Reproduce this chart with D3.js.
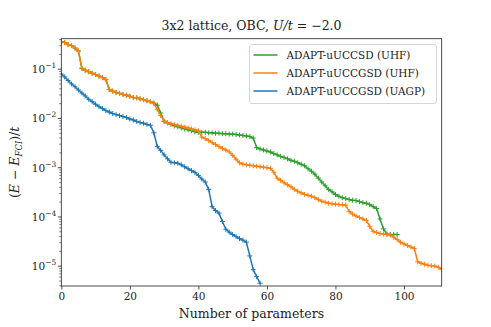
<!DOCTYPE html>
<html>
<head>
<meta charset="utf-8">
<script src="https://cdn.jsdelivr.net/npm/d3@7"></script>
<style>
  body { margin: 0; background: #fff; }
  text { font-family: "DejaVu Serif", "Liberation Serif", serif; fill: #222; }
</style>
</head>
<body>
<div id="chart-area"></div>
<script>
// values (one point per parameter)
var uhfGsdVals = [3.55e-1, 3.39e-1, 3.09e-1, 2.95e-1, 2.63e-1, 2.29e-1, 1.02e-1, 9.3e-2, 8.7e-2, 8.1e-2,
  7.6e-2, 7.1e-2, 6.6e-2, 6.0e-2, 3.8e-2, 3.5e-2, 3.3e-2, 3.16e-2, 3.0e-2, 2.9e-2,
  2.75e-2, 2.6e-2, 2.57e-2, 2.45e-2, 2.35e-2, 2.24e-2, 2.14e-2, 2.0e-2, 1.5e-2, 1.12e-2,
  8.7e-3, 8.1e-3, 7.6e-3, 7.4e-3, 7.1e-3, 6.8e-3, 6.5e-3, 6.3e-3, 6.0e-3, 5.75e-3,
  5.5e-3, 4.07e-3, 3.8e-3, 3.47e-3, 3.16e-3, 2.88e-3, 2.63e-3, 2.4e-3, 2.24e-3, 2.04e-3,
  1.74e-3, 1.45e-3, 1.23e-3, 1.15e-3, 1.12e-3, 1.1e-3, 1.07e-3, 1.05e-3, 1.02e-3, 1.0e-3,
  9.8e-4, 9.5e-4, 7.9e-4, 6.0e-4, 5.4e-4, 4.8e-4, 4.4e-4, 4.0e-4, 3.55e-4, 3.24e-4,
  3.0e-4, 2.8e-4, 2.7e-4, 2.57e-4, 2.4e-4, 2.2e-4, 2.04e-4, 1.95e-4, 1.86e-4, 1.82e-4,
  1.78e-4, 1.74e-4, 1.72e-4, 1.70e-4, 1.26e-4, 1.12e-4, 1.02e-4, 9.5e-5, 8.9e-5, 8.3e-5,
  6.3e-5, 5.0e-5, 4.7e-5, 4.5e-5, 4.4e-5, 4.3e-5, 4.2e-5, 3.8e-5, 3.4e-5, 3.0e-5,
  2.75e-5, 2.57e-5, 2.4e-5, 2.24e-5, 1.2e-5, 1.12e-5, 1.07e-5, 1.02e-5, 1.0e-5, 9.8e-6,
  9.3e-6, 8.5e-6];

var uhfSdVals = [3.55e-1, 3.39e-1, 3.09e-1, 2.95e-1, 2.63e-1, 2.29e-1, 1.02e-1, 9.3e-2, 8.7e-2, 8.1e-2,
  7.6e-2, 7.1e-2, 6.6e-2, 6.0e-2, 3.8e-2, 3.5e-2, 3.3e-2, 3.16e-2, 3.0e-2, 2.9e-2,
  2.75e-2, 2.6e-2, 2.57e-2, 2.45e-2, 2.35e-2, 2.24e-2, 2.14e-2, 2.0e-2, 1.82e-2, 1.26e-2,
  8.5e-3, 7.9e-3, 7.4e-3, 6.9e-3, 6.6e-3, 6.3e-3, 6.0e-3, 5.75e-3, 5.5e-3, 5.25e-3,
  5.1e-3, 5.1e-3, 5.1e-3, 5.0e-3, 5.0e-3, 4.9e-3, 4.9e-3, 4.8e-3, 4.8e-3, 4.7e-3,
  4.7e-3, 4.6e-3, 4.5e-3, 4.4e-3, 4.3e-3, 4.2e-3, 3.9e-3, 2.5e-3, 2.35e-3, 2.24e-3,
  2.14e-3, 2.04e-3, 1.9e-3, 1.78e-3, 1.66e-3, 1.58e-3, 1.48e-3, 1.38e-3, 1.32e-3, 1.23e-3,
  1.15e-3, 1.07e-3, 9.3e-4, 8.3e-4, 7.2e-4, 6.0e-4, 5.0e-4, 4.2e-4, 3.55e-4, 3.16e-4,
  2.8e-4, 2.57e-4, 2.4e-4, 2.3e-4, 2.2e-4, 2.14e-4, 2.1e-4, 2.0e-4, 1.9e-4, 1.86e-4,
  1.74e-4, 1.58e-4, 1.45e-4, 8.9e-5, 5.6e-5, 4.4e-5, 4.3e-5, 4.3e-5, 4.3e-5];

var uagpGsdVals = [7.8e-2, 6.8e-2, 5.75e-2, 4.9e-2, 4.3e-2, 3.7e-2, 3.2e-2, 2.8e-2, 2.4e-2, 2.14e-2,
  1.9e-2, 1.7e-2, 1.55e-2, 1.41e-2, 1.32e-2, 1.23e-2, 1.17e-2, 1.12e-2, 1.07e-2, 1.02e-2,
  9.5e-3, 9.1e-3, 8.5e-3, 8.1e-3, 7.8e-3, 7.4e-3, 7.1e-3, 5.0e-3, 2.63e-3, 2.2e-3,
  1.78e-3, 1.48e-3, 1.26e-3, 1.23e-3, 1.2e-3, 1.12e-3, 1.02e-3, 9.3e-4, 8.5e-4, 7.8e-4,
  6.8e-4, 5.75e-4, 5.0e-4, 3.55e-4, 1.58e-4, 1.32e-4, 1.17e-4, 7.9e-5, 5.5e-5, 4.8e-5,
  4.3e-5, 3.9e-5, 3.55e-5, 3.3e-5, 3.0e-5, 1.58e-5, 8.3e-6, 6.0e-6, 4.4e-6];

var seriesNames = ['ADAPT-uUCCSD (UHF)', 'ADAPT-uUCCGSD (UHF)', 'ADAPT-uUCCGSD (UAGP)'];
var seriesColors = ['#2ca02c', '#ff7f0e', '#1f77b4'];
var xTicks = [0, 20, 40, 60, 80, 100];
var yTicks = [1e-5, 1e-4, 1e-3, 1e-2, 1e-1];

var allSeries = [uhfSdVals, uhfGsdVals, uagpGsdVals].map(function(vals, i) {
  return { name: seriesNames[i], color: seriesColors[i],
           pts: vals.map(function(v, n) { return { n: n, v: v }; }) };
});

var W = 491, H = 327;
var margin = { left: 61.3, right: 49.3, top: 38.7, bottom: 41 };
var width = W - margin.left - margin.right,
    height = H - margin.top - margin.bottom;

var svg = d3.select('#chart-area').append('svg')
  .attr('width', W).attr('height', H);
var g = svg.append('g')
  .attr('transform', 'translate(' + margin.left + ',' + margin.top + ')');

var xScale = d3.scaleLinear().domain([0, 111]).range([0, width]);
var yScale = d3.scaleLog().domain([3.87e-6, 0.407]).range([height, 0]);

// x axis
var xAxis = d3.axisBottom(xScale).tickValues(xTicks).tickSize(3.5).tickPadding(3.5);
var xg = g.append('g').attr('transform', 'translate(0,' + height + ')').call(xAxis);
xg.select('.domain').remove();
xg.selectAll('text').style('font-size', '10.5px').style('font-family', '"DejaVu Serif", serif');
xg.selectAll('line').attr('stroke', '#222').attr('stroke-width', 0.8);

// y axis (log): major + minor ticks
var minor = [];
for (var k = -6; k <= -1; k++) {
  for (var m = 2; m <= 9; m++) {
    var v = m * Math.pow(10, k);
    if (v >= yScale.domain()[0] && v <= yScale.domain()[1]) minor.push(v);
  }
}
var yMinor = d3.axisLeft(yScale).tickValues(minor).tickSize(2).tickFormat('');
var ymg = g.append('g').call(yMinor);
ymg.select('.domain').remove();
ymg.selectAll('line').attr('stroke', '#222').attr('stroke-width', 0.6);

var yAxis = d3.axisLeft(yScale).tickValues(yTicks).tickSize(3.5).tickPadding(3.5).tickFormat('');
var yg = g.append('g').call(yAxis);
yg.select('.domain').remove();
yg.selectAll('line').attr('stroke', '#222').attr('stroke-width', 0.8);
yg.selectAll('.tick').append('text')
  .attr('x', -5).attr('y', 4)
  .attr('fill', '#222')
  .attr('text-anchor', 'end')
  .style('font-size', '10.5px')
  .each(function(d) {
    var t = d3.select(this);
    t.append('tspan').text('10');
    t.append('tspan').attr('dy', -5).style('font-size', '7.5px')
      .text('\u2212' + Math.round(-Math.log10(d)));
  });

// lines
var line = d3.line()
  .x(function(d) { return xScale(d.n); })
  .y(function(d) { return yScale(d.v); });

var clip = g.append('clipPath').attr('id', 'clip')
  .append('rect').attr('width', width).attr('height', height);
var plot = g.append('g').attr('clip-path', 'url(#clip)');

allSeries.forEach(function(s) {
  plot.append('path').datum(s.pts)
    .attr('d', line)
    .attr('fill', 'none')
    .attr('stroke', s.color)
    .attr('stroke-width', 1.5)
    .attr('stroke-linejoin', 'round');
  plot.selectAll(null).data(s.pts).enter().append('path')
    .attr('d', function(d) {
      var x = xScale(d.n), y = yScale(d.v), r = 2.5;
      return 'M' + (x - r) + ',' + y + 'H' + (x + r) + 'M' + x + ',' + (y - r) + 'V' + (y + r);
    })
    .attr('stroke', s.color)
    .attr('stroke-width', 1);
});

// frame
g.append('rect').attr('width', width).attr('height', height)
  .attr('fill', 'none').attr('stroke', '#222').attr('stroke-width', 0.8);

// title
var title = svg.append('text')
  .attr('x', margin.left + width / 2).attr('y', 30)
  .attr('text-anchor', 'middle').style('font-size', '12.5px');
title.append('tspan').text('3x2 lattice, OBC, ');
title.append('tspan').style('font-style', 'italic').text('U/t');
title.append('tspan').text(' = \u22122.0');

// axis labels
svg.append('text')
  .attr('x', margin.left + width / 2).attr('y', 318)
  .attr('text-anchor', 'middle').style('font-size', '12.5px')
  .text('Number of parameters');

var yl = svg.append('text')
  .attr('transform', 'translate(19,' + (margin.top + height / 2) + ') rotate(-90)')
  .attr('text-anchor', 'middle').style('font-size', '12.5px');
yl.append('tspan').text('(');
yl.append('tspan').style('font-style', 'italic').text('E');
yl.append('tspan').text(' \u2212 ');
yl.append('tspan').style('font-style', 'italic').text('E');
yl.append('tspan').attr('dy', 3).style('font-size', '8.5px').style('font-style', 'italic').text('FCI');
yl.append('tspan').attr('dy', -3).text(')/');
yl.append('tspan').style('font-style', 'italic').text('t');

// legend
var legend = svg.append('g').attr('transform', 'translate(249.5,44.5)');
legend.append('rect')
  .attr('width', 187).attr('height', 59).attr('rx', 2.5)
  .attr('fill', '#fff').attr('fill-opacity', 0.8)
  .attr('stroke', '#ccc').attr('stroke-width', 0.8);
allSeries.forEach(function(s, i) {
  var row = legend.append('g').attr('transform', 'translate(0,' + (10.5 + i * 18) + ')');
  row.append('line').attr('x1', 4).attr('x2', 28)
    .attr('stroke', s.color).attr('stroke-width', 1.5);
  row.append('text').attr('x', 37).attr('y', 4)
    .style('font-size', '10.5px').text(s.name);
});
</script>
</body>
</html>
